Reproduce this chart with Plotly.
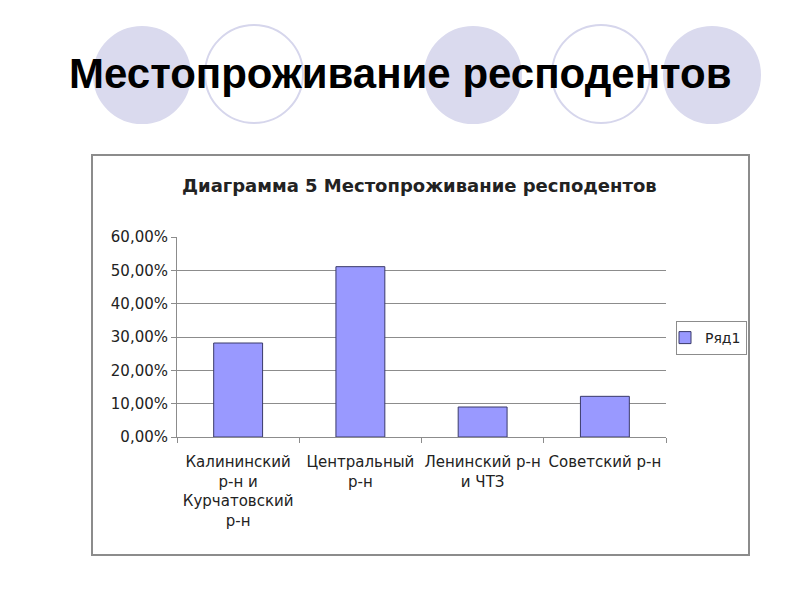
import plotly.graph_objects as go

# data
districts = ['Калининский<br>р-н и<br>Курчатовский<br>р-н',
             'Центральный<br>р-н',
             'Ленинский р-н<br>и ЧТЗ',
             'Советский р-н']
shares = [0.282, 0.511, 0.090, 0.122]
series_name = 'Ряд1'
y_ticks = [0, 0.1, 0.2, 0.3, 0.4, 0.5, 0.6]

W, H = 800, 600


def px_x(x):
    return x / W


def px_y(y):
    return 1 - y / H


fig = go.Figure()
fig.add_trace(go.Bar(
    x=districts, y=shares, name=series_name,
    marker=dict(color='#9999FF', line=dict(color='#3A3A6A', width=1)),
    showlegend=True,
))

shapes = []
# decorative circles behind the slide title
circles = [(142, 75, 48, True), (254, 74, 49, False), (473, 75, 48, True),
           (601, 74, 49, False), (712, 75, 48, True)]
for cx, cy, r, filled in circles:
    shapes.append(dict(
        type='circle', xref='paper', yref='paper', layer='below',
        x0=px_x(cx - r), x1=px_x(cx + r), y0=px_y(cy + r), y1=px_y(cy - r),
        fillcolor='#DADAEE' if filled else 'rgba(0,0,0,0)',
        line=dict(color='#D6D6EC' if not filled else '#DADAEE', width=2),
    ))
# chart frame
shapes.append(dict(
    type='rect', xref='paper', yref='paper', layer='below',
    x0=px_x(92), x1=px_x(749), y0=px_y(555), y1=px_y(155),
    line=dict(color='#8C8C8C', width=2), fillcolor='white',
))

fig.update_layout(
    width=W, height=H,
    margin=dict(l=0, r=0, t=0, b=0, autoexpand=False),
    paper_bgcolor='white', plot_bgcolor='white',
    separators=', ',
    font=dict(family='DejaVu Sans', size=15, color='#222222'),
    shapes=shapes,
    bargap=0.6,
    legend=dict(
        x=px_x(676), y=px_y(321), xanchor='left', yanchor='top',
        bordercolor='#8C8C8C', borderwidth=1, bgcolor='white',
        font=dict(family='DejaVu Sans', size=14, color='#222222'),
        itemwidth=30, indentation=-12,
    ),
    annotations=[
        dict(text='<b>Местопроживание респодентов</b>', xref='paper', yref='paper',
             x=px_x(400), y=px_y(73), xanchor='center', yanchor='middle',
             showarrow=False,
             font=dict(family='Liberation Sans', size=42, color='black')),
        dict(text='<b>Диаграмма 5 Местопроживание респодентов</b>', xref='paper', yref='paper',
             x=px_x(419), y=px_y(185), xanchor='center', yanchor='middle',
             showarrow=False,
             font=dict(family='DejaVu Sans', size=18, color='#222222')),
    ],
)

fig.update_xaxes(
    domain=[px_x(177), px_x(666)],
    showline=True, linecolor='#8C8C8C', linewidth=1,
    ticks='outside', tickson='boundaries', ticklen=5, tickcolor='#8C8C8C',
    showgrid=False, tickangle=0, tickfont=dict(size=15),
    ticklabelstandoff=11,
)
fig.update_yaxes(
    domain=[px_y(437), px_y(237)],
    range=[0, 0.6], tickvals=y_ticks, tickformat='.2%',
    showline=True, linecolor='#8C8C8C', linewidth=1,
    ticks='outside', ticklen=5, tickcolor='#8C8C8C',
    showgrid=True, gridcolor='#8C8C8C', gridwidth=1,
    zeroline=False,
)

fig.write_html('out.html', config={'displayModeBar': False},
               post_script="document.body.style.margin='0';")
